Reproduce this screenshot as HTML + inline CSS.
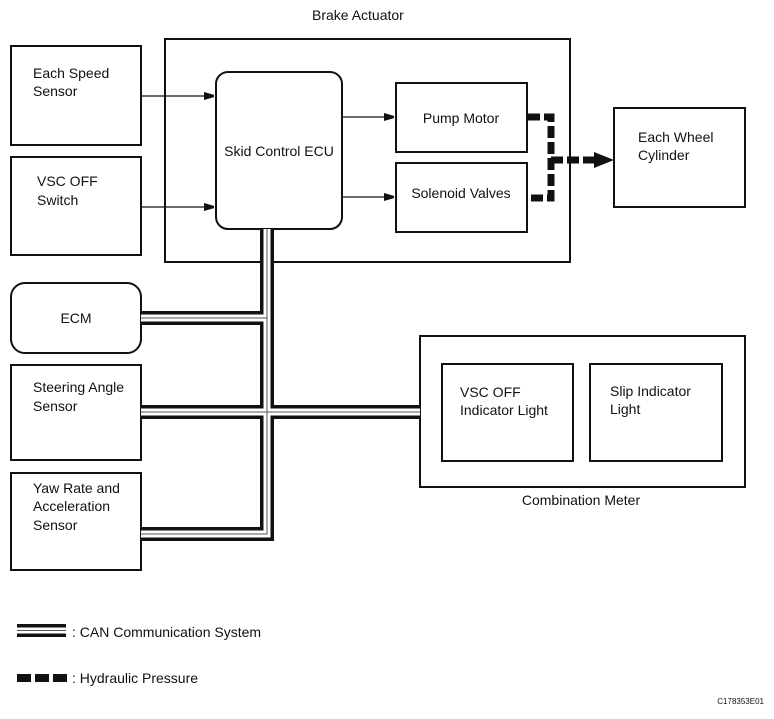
<!DOCTYPE html>
<html><head><meta charset="utf-8"><style>
html,body{margin:0;padding:0;background:#fff}
svg text{font-family:"Liberation Sans",Arial,sans-serif;font-size:14px;fill:#111}
</style></head><body>
<svg width="774" height="714" viewBox="0 0 774 714" xmlns="http://www.w3.org/2000/svg">
<defs><marker id="a" markerWidth="10" markerHeight="8" refX="10" refY="4" orient="auto" markerUnits="userSpaceOnUse"><path d="M0,0 L14,4 L0,8 Z" fill="#111"/></marker></defs>
<g fill="none" stroke="#111" stroke-width="2">
<rect x="11" y="46" width="130" height="99"/>
<rect x="11" y="157" width="130" height="98"/>
<rect x="165" y="39" width="405" height="223"/>
<rect x="216" y="72" width="126" height="157" rx="12"/>
<rect x="396" y="83" width="131" height="69"/>
<rect x="396" y="163" width="131" height="69"/>
<rect x="614" y="108" width="131" height="99"/>
<rect x="11" y="283" width="130" height="70" rx="14"/>
<rect x="11" y="365" width="130" height="95"/>
<rect x="11" y="473" width="130" height="97"/>
<rect x="420" y="336" width="325" height="151"/>
<rect x="442" y="364" width="131" height="97"/>
<rect x="590" y="364" width="132" height="97"/>
</g>
<g stroke="#111" stroke-width="1.3" fill="none">
<line x1="141" y1="96" x2="214" y2="96" marker-end="url(#a)"/>
<line x1="141" y1="207" x2="214" y2="207" marker-end="url(#a)"/>
<line x1="342" y1="117" x2="394" y2="117" marker-end="url(#a)"/>
<line x1="342" y1="197" x2="394" y2="197" marker-end="url(#a)"/>
</g>
<g stroke="#111" stroke-width="7" fill="none" stroke-dasharray="12,4">
<polyline points="528,117 551,117 551,198 528,198"/>
<line x1="551" y1="160" x2="598" y2="160"/>
</g>
<path d="M594,152 L614,160 L594,168 Z" fill="#111"/>
<g fill="none" stroke-linejoin="miter">
<path d="M267,229 V534 H141 M141,318 H267 M141,412 H420" stroke="#111" stroke-width="14"/>
<path d="M267,229 V534 H141 M141,318 H267 M141,412 H420" stroke="#fff" stroke-width="7"/>
<path d="M267,229 V534 H141 M141,318 H267 M141,412 H420" stroke="#555" stroke-width="1"/>
</g>
<rect x="17" y="624" width="49" height="13" fill="#111"/>
<rect x="17" y="627.5" width="49" height="6" fill="#fff"/>
<line x1="17" y1="630.5" x2="66" y2="630.5" stroke="#555" stroke-width="1"/>
<g fill="#111"><rect x="17" y="674" width="14" height="8"/><rect x="35" y="674" width="14" height="8"/><rect x="53" y="674" width="14" height="8"/></g>
<text x="312" y="20">Brake Actuator</text>
<text x="33" y="78">Each Speed</text><text x="33" y="96">Sensor</text>
<text x="37" y="186">VSC OFF</text><text x="37" y="205">Switch</text>
<text x="279" y="156" text-anchor="middle">Skid Control ECU</text>
<text x="461" y="123" text-anchor="middle">Pump Motor</text>
<text x="461" y="198" text-anchor="middle">Solenoid Valves</text>
<text x="638" y="142">Each Wheel</text><text x="638" y="160">Cylinder</text>
<text x="76" y="323" text-anchor="middle">ECM</text>
<text x="33" y="392">Steering Angle</text><text x="33" y="411">Sensor</text>
<text x="33" y="493">Yaw Rate and</text><text x="33" y="511">Acceleration</text><text x="33" y="530">Sensor</text>
<text x="460" y="397">VSC OFF</text><text x="460" y="415">Indicator Light</text>
<text x="610" y="396">Slip Indicator</text><text x="610" y="414">Light</text>
<text x="581" y="505" text-anchor="middle">Combination Meter</text>
<text x="72" y="637">: CAN Communication System</text>
<text x="72" y="683">: Hydraulic Pressure</text>
<text x="764" y="704" text-anchor="end" style="font-size:8px">C178353E01</text>
</svg>
</body></html>
